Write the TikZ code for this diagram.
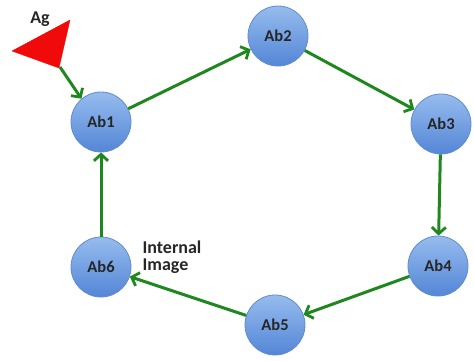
\documentclass[tikz,border=0pt]{standalone}
\usepackage{fontspec}
\setmainfont{Carlito}
\usetikzlibrary{arrows.meta}
\definecolor{ringfill}{RGB}{150,188,238}
\definecolor{ringfilldark}{RGB}{84,134,214}
\definecolor{ringline}{RGB}{96,140,205}
\definecolor{linkgreen}{RGB}{30,135,30}
\definecolor{agred}{RGB}{240,10,10}
\tikzset{
  ab/.style={circle, minimum size=60pt, inner sep=0pt, draw=ringline, line width=0.8pt,
    top color=ringfill, bottom color=ringfilldark, font=\bfseries\fontsize{16.5}{18}\selectfont, text=black!85},
  link/.style={draw=linkgreen, line width=3pt, -{Straight Barb[length=6.5pt,width=14pt,line width=2.8pt]}},
  lbl/.style={font=\bfseries\fontsize{18}{20}\selectfont, text=black!85, align=left}
}
\begin{document}
\begin{tikzpicture}[x=1pt,y=-1pt]
\useasboundingbox (0,0) rectangle (474,360);
% antibody rings
\node[ab] (ab1) at (101,122) {Ab1};
\node[ab] (ab2) at (278,36) {Ab2};
\node[ab] (ab3) at (441,124) {Ab3};
\node[ab] (ab4) at (438,266) {Ab4};
\node[ab] (ab5) at (275,325) {Ab5};
\node[ab] (ab6) at (101,267) {Ab6};
% antigen
\draw[agred, fill=agred, line join=round] (12,51) -- (70,20) -- (59,68) -- cycle;
\coordinate (agtip) at (60,67);
\node[lbl] (ag) at (40,19) {Ag};
\node[lbl] (ii) at (172,257) {Internal\\[-3pt]Image};
% idiotypic network links
\draw[link] (agtip) -- (ab1.130);
\draw[link] (ab1) -- (ab2);
\draw[link] (ab2) -- (ab3);
\draw[link] (ab3) -- (ab4);
\draw[link] (ab4) -- (ab5);
\draw[link] (ab5) -- (ab6);
\draw[link] (ab6) -- (ab1);
\end{tikzpicture}
\end{document}
